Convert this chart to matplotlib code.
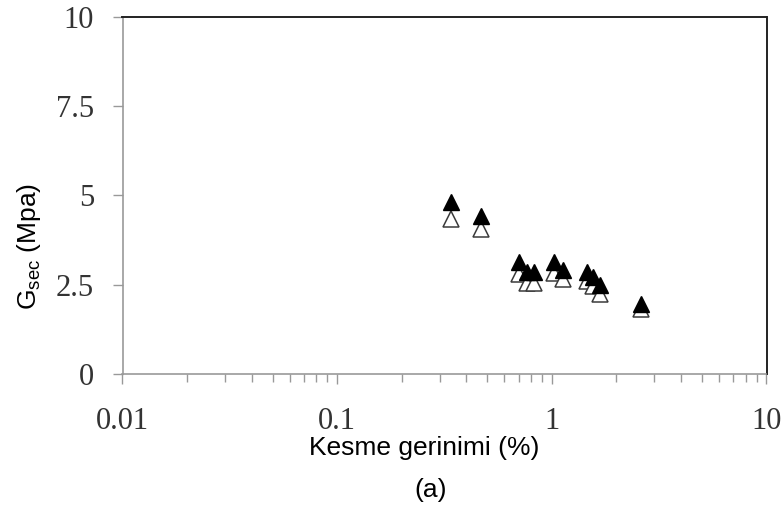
import matplotlib
matplotlib.use("Agg")
import matplotlib.pyplot as plt
from matplotlib.ticker import LogLocator, FixedLocator, NullFormatter

# Shear strain (%) and secant shear modulus (MPa)
strain = [0.34, 0.47, 0.70, 0.77, 0.83, 1.02, 1.13, 1.46, 1.55, 1.68, 2.61]
gsec_filled = [4.80, 4.42, 3.12, 2.84, 2.84, 3.12, 2.92, 2.86, 2.72, 2.50, 1.96]
gsec_open = [4.33, 4.05, 2.80, 2.55, 2.55, 2.83, 2.65, 2.60, 2.45, 2.25, 1.82]

y_ticks = [0, 2.5, 5, 7.5, 10]
y_tick_labels = ["0", "2.5", "5", "7.5", "10"]
x_ticks = [0.01, 0.1, 1, 10]
x_tick_labels = ["0.01", "0.1", "1", "10"]

fig = plt.figure(figsize=(7.83, 5.15), dpi=100)
ax = fig.add_axes([122.5 / 783, 1 - 374 / 515, (766.5 - 122.5) / 783, (374 - 16.5) / 515])

ax.plot(strain, gsec_open, linestyle="none", marker="^", markersize=11,
        markerfacecolor="white", markeredgecolor="#3a3a3a", markeredgewidth=1.1,
        zorder=3, clip_on=False)
ax.plot(strain, gsec_filled, linestyle="none", marker="^", markersize=11,
        markerfacecolor="black", markeredgecolor="black", markeredgewidth=1.0,
        zorder=4, clip_on=False)

ax.set_xscale("log")
ax.set_xlim(0.01, 10)
ax.set_ylim(0, 10)

ax.xaxis.set_major_locator(FixedLocator(x_ticks))
ax.set_xticklabels(x_tick_labels)
ax.xaxis.set_minor_locator(LogLocator(base=10, subs=range(2, 10)))
ax.xaxis.set_minor_formatter(NullFormatter())
ax.set_yticks(y_ticks)
ax.set_yticklabels(y_tick_labels)

serif = ["Liberation Serif", "DejaVu Serif"]
for lab in ax.get_xticklabels() + ax.get_yticklabels():
    lab.set_fontfamily(serif)
    lab.set_fontsize(22)
    lab.set_color("#333333")

ax.tick_params(axis="x", which="major", direction="out", length=7.5, width=1.0,
               color="#999999", pad=16)
ax.tick_params(axis="x", which="minor", direction="out", length=5.8, width=1.0,
               color="#999999")
ax.tick_params(axis="y", which="major", direction="out", length=7.5, width=1.0,
               color="#999999", pad=13)

for side in ("left", "bottom"):
    ax.spines[side].set_color("#999999")
    ax.spines[side].set_linewidth(1.2)
for side in ("top", "right"):
    ax.spines[side].set_color("#222222")
    ax.spines[side].set_linewidth(1.4)

sans = ["Liberation Sans", "DejaVu Sans"]
ax.set_xlabel("Kesme gerinimi (%)", fontfamily=sans, fontsize=19, labelpad=0)
ax.xaxis.label.set_x((424 - 122.5) / 644)
ax.set_ylabel(r"G$_{\mathregular{sec}}$ (Mpa)", fontfamily=sans, fontsize=19, labelpad=9)
ax.yaxis.label.set_y((374 - 247) / 357.5)

fig.text(431 / 783, 1 - 490 / 515, "(a)", fontfamily=sans, fontsize=19,
         ha="center", va="center")

fig.savefig("out.png", dpi=100)
